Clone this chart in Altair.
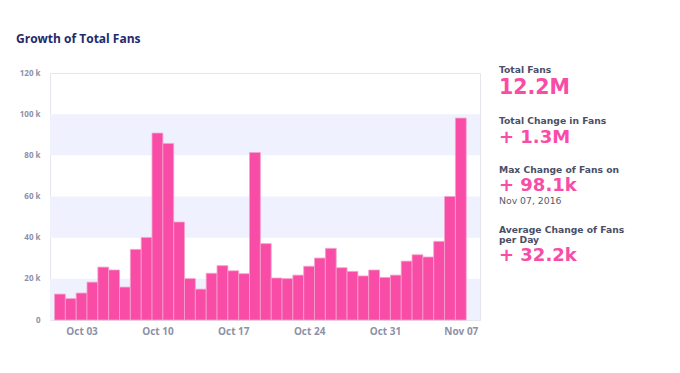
import altair as alt
import pandas as pd

# ---- data ----
dates = pd.date_range("2016-10-01", "2016-11-07", freq="D").strftime("%Y-%m-%dT00:00:00").tolist()
fans_change = [12.6, 10.4, 13.1, 18.4, 25.7, 24.3, 16.0, 34.3, 40.1, 90.8,
               85.8, 47.6, 20.1, 15.0, 22.7, 26.4, 23.9, 22.5, 81.4, 37.1,
               20.4, 20.1, 21.8, 26.1, 30.1, 34.8, 25.4, 23.6, 21.4, 24.3,
               20.7, 21.8, 28.6, 31.7, 30.6, 38.2, 60.0, 98.1]
band_starts = [0, 40000, 80000]
band_ends = [20000, 60000, 100000]
y_ticks = [0, 20000, 40000, 60000, 80000, 100000, 120000]
x_tick_days = [(10, 3), (10, 10), (10, 17), (10, 24), (10, 31), (11, 7)]

title_text = "Growth of Total Fans"
panel_labels = ["Total Fans", "Total Change in Fans", "Max Change of Fans on",
                "Average Change of Fans\nper Day"]
panel_values = ["12.2M", "+ 1.3M", "+ 98.1k", "+ 32.2k"]
max_date_text = "Nov 07, 2016"

df = pd.DataFrame({"date": dates, "value": [v * 1000 for v in fans_change]})
bands = pd.DataFrame({"y0": band_starts, "y1": band_ends})

PINK = "#f84ca6"
x_scale = alt.Scale(domain=[alt.DateTime(year=2016, month=9, date=30, hours=2),
                            alt.DateTime(year=2016, month=11, date=8, hours=18, minutes=30)],
                    nice=False, padding=0)
y_scale = alt.Scale(domain=[0, 120000], nice=False, padding=0)

band_layer = alt.Chart(bands).mark_rect(color="#eff2fe").encode(
    y=alt.Y("y0:Q", scale=y_scale, axis=alt.Axis(
        values=y_ticks, title=None, grid=False, domain=False, ticks=False,
        labelPadding=10, labelFont="Open Sans", labelFontWeight="bold",
        labelFontSize=8, labelColor="#8e91a6",
        labelExpr="datum.value == 0 ? '0' : format(datum.value/1000, 'd') + ' k'")),
    y2="y1:Q",
    x=alt.value(0), x2=alt.value(430),
)

bars = alt.Chart(df).transform_calculate(
    start="toDate(datum.date) - 43200000",
    end="toDate(datum.date) + 43200000",
).mark_bar(color=PINK, stroke="#f5a2cc", strokeWidth=0.8, opacity=1,
           orient="vertical").encode(
    x=alt.X("start:T", scale=x_scale, axis=alt.Axis(
        values=[alt.DateTime(year=2016, month=m, date=d) for m, d in x_tick_days],
        format="%b %d", title=None, grid=False, domain=False, ticks=False,
        labelPadding=6, labelFont="Open Sans", labelFontWeight="bold",
        labelFontSize=10, labelColor="#8e91a6")),
    x2="end:T",
    y=alt.Y("value:Q", scale=y_scale),
    y2=alt.datum(0),
)


def txt(s, x, y, size, color, weight="bold", font="DejaVu Sans", lh=None):
    kw = dict(align="left", baseline="alphabetic", font=font, fontSize=size,
              fontWeight=weight, color=color, lineBreak="\n")
    if lh:
        kw["lineHeight"] = lh
    return alt.Chart(pd.DataFrame({"t": [s]})).mark_text(**kw).encode(
        x=alt.value(x), y=alt.value(y), text="t:N")


LBL = "#4b4f66"
layers = [band_layer, bars,
          txt(title_text, -34, -30.5, 12, "#1d2a6b", font="Open Sans"),
          txt(panel_labels[0], 449, -0.5, 9.2, LBL),
          txt(panel_values[0], 449, 20.5, 20.5, PINK),
          txt(panel_labels[1], 449, 51, 9.2, LBL),
          txt(panel_values[1], 449, 69.5, 18, PINK),
          txt(panel_labels[2], 449, 99.7, 9.2, LBL),
          txt(panel_values[2], 449, 118, 18, PINK),
          txt(max_date_text, 449, 131.3, 9.3, "#555a6e", weight="normal"),
          txt(panel_labels[3], 449, 159.7, 9.2, LBL, lh=10),
          txt(panel_values[3], 449, 187.7, 18, PINK),
          ]

chart = alt.layer(*layers).properties(
    width=430, height=247,
    autosize=alt.AutoSizeParams(type="none"),
    padding={"left": 42, "top": 65, "right": 180, "bottom": 30},
).configure_view(stroke="#e3e6ee", strokeWidth=1)

chart.save("out.html", embed_options={"renderer": "svg", "actions": False})
